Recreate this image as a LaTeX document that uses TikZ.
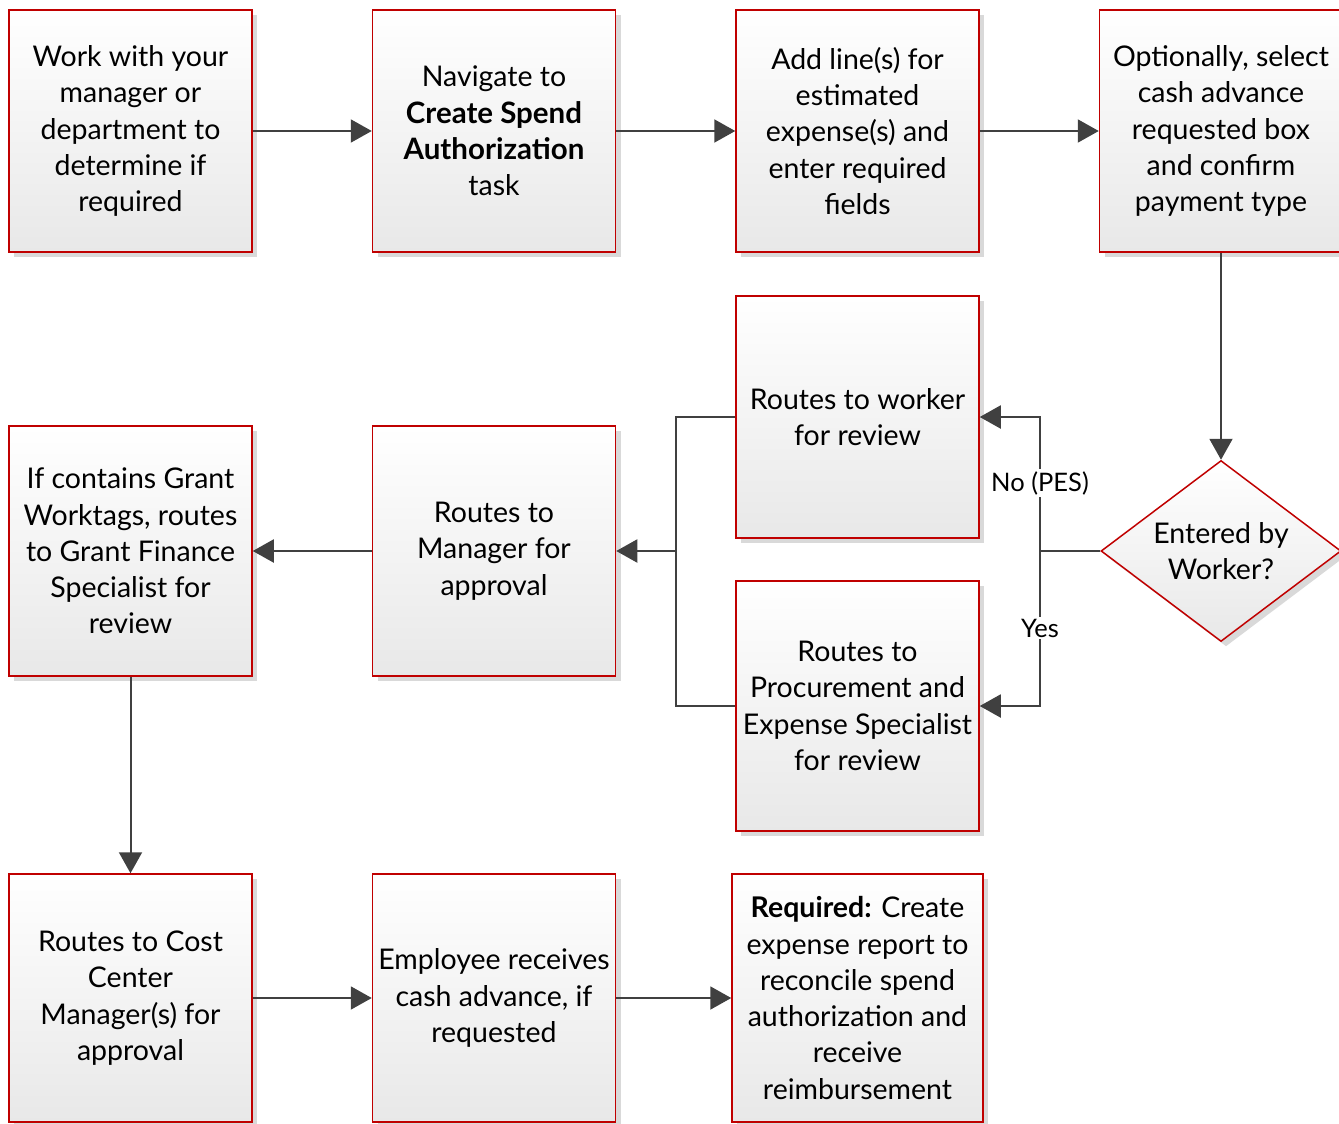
\documentclass[tikz,border=0pt]{standalone}
\usepackage{fontspec}
\setmainfont{Lato}
\usetikzlibrary{arrows.meta,shapes.geometric,shadows}
\definecolor{bred}{HTML}{C00000}
\definecolor{lgray}{HTML}{404040}
\definecolor{shd}{HTML}{D9D9D9}
\tikzset{
  box/.style={draw=bred, line width=1.5pt, top color=white, bottom color=black!9,
    minimum width=243pt, minimum height=242pt, inner sep=0pt, align=center,
    font=\fontsize{28.5}{36.3}\selectfont,
    drop shadow={shadow xshift=5pt, shadow yshift=-5pt, fill=shd, opacity=1}},
  dec/.style={box, shape=diamond, minimum width=240pt, minimum height=181pt, shape aspect=1.33},
  line/.style={draw=lgray, line width=2pt},
  conn/.style={line, -{Triangle[length=21pt,width=23pt]}},
  lab/.style={fill=white, inner sep=2pt, font=\fontsize{25.5}{30}\selectfont}
}
\begin{document}
\begin{tikzpicture}[x=1pt,y=-1pt]
\useasboundingbox (0,0) rectangle (1339,1124);
% row 1
\node[box] (b1) at (130.5,131) {Work with your\\manager or\\department to\\determine if\\required};
\node[box] (b2) at (494,131) {Navigate to\\{\fontsize{29.5}{36.3}\selectfont\textbf{Create Spend}}\\{\fontsize{29.5}{36.3}\selectfont\textbf{Authorization}}\\task};
\node[box] (b3) at (857.5,131) {Add line(s) for\\estimated\\expense(s) and\\enter required\\fields};
\node[box] (b4) at (1221,131) {Optionally, select\\cash advance\\requested box\\and confirm\\payment type};
% row 2
\node[dec] (dia) at (1221,551) {Entered by\\Worker?};
\node[box] (wrk) at (857.5,417) {Routes to worker\\for review};
\node[box, minimum height=250pt] (pes) at (857.5,706) {Routes to\\Procurement and\\Expense Specialist\\for review};
\node[box, minimum height=250pt] (mgr) at (494,551) {Routes to\\Manager for\\approval};
\node[box, minimum height=250pt] (grt) at (130.5,551) {If contains Grant\\Worktags, routes\\to Grant Finance\\Specialist for\\review};
% row 3
\node[box, minimum height=248pt] (cst) at (130.5,998) {Routes to Cost\\Center\\Manager(s) for\\approval};
\node[box, minimum height=248pt] (emp) at (494,998) {Employee receives\\cash advance, if\\requested};
\node[box, minimum height=248pt, minimum width=251pt] (req) at (857.5,998) {\textbf{Required:} Create\\expense report to\\reconcile spend\\authorization and\\receive\\reimbursement};
% junctions
\coordinate (j1) at (1040,551);
\coordinate (j2) at (676,551);
% connectors
\draw[conn] (b1.east) -- (b2.west);
\draw[conn] (b2.east) -- (b3.west);
\draw[conn] (b3.east) -- (b4.west);
\draw[conn] (b4.south) -- (dia.north);
\draw[line] (dia.west) -- (j1);
\draw[conn] (j1) |- (wrk.east);
\draw[conn] (j1) |- (pes.east);
\node[lab] (lno) at (1040,483) {No (PES)};
\node[lab] (lyes) at (1040,628) {Yes};
\draw[line] (wrk.west) -| (j2);
\draw[line] (pes.west) -| (j2);
\draw[conn] (j2) -- (mgr.east);
\draw[conn] (mgr.west) -- (grt.east);
\draw[conn] (grt.south) -- (cst.north);
\draw[conn] (cst.east) -- (emp.west);
\draw[conn] (emp.east) -- (req.west);
\end{tikzpicture}
\end{document}
